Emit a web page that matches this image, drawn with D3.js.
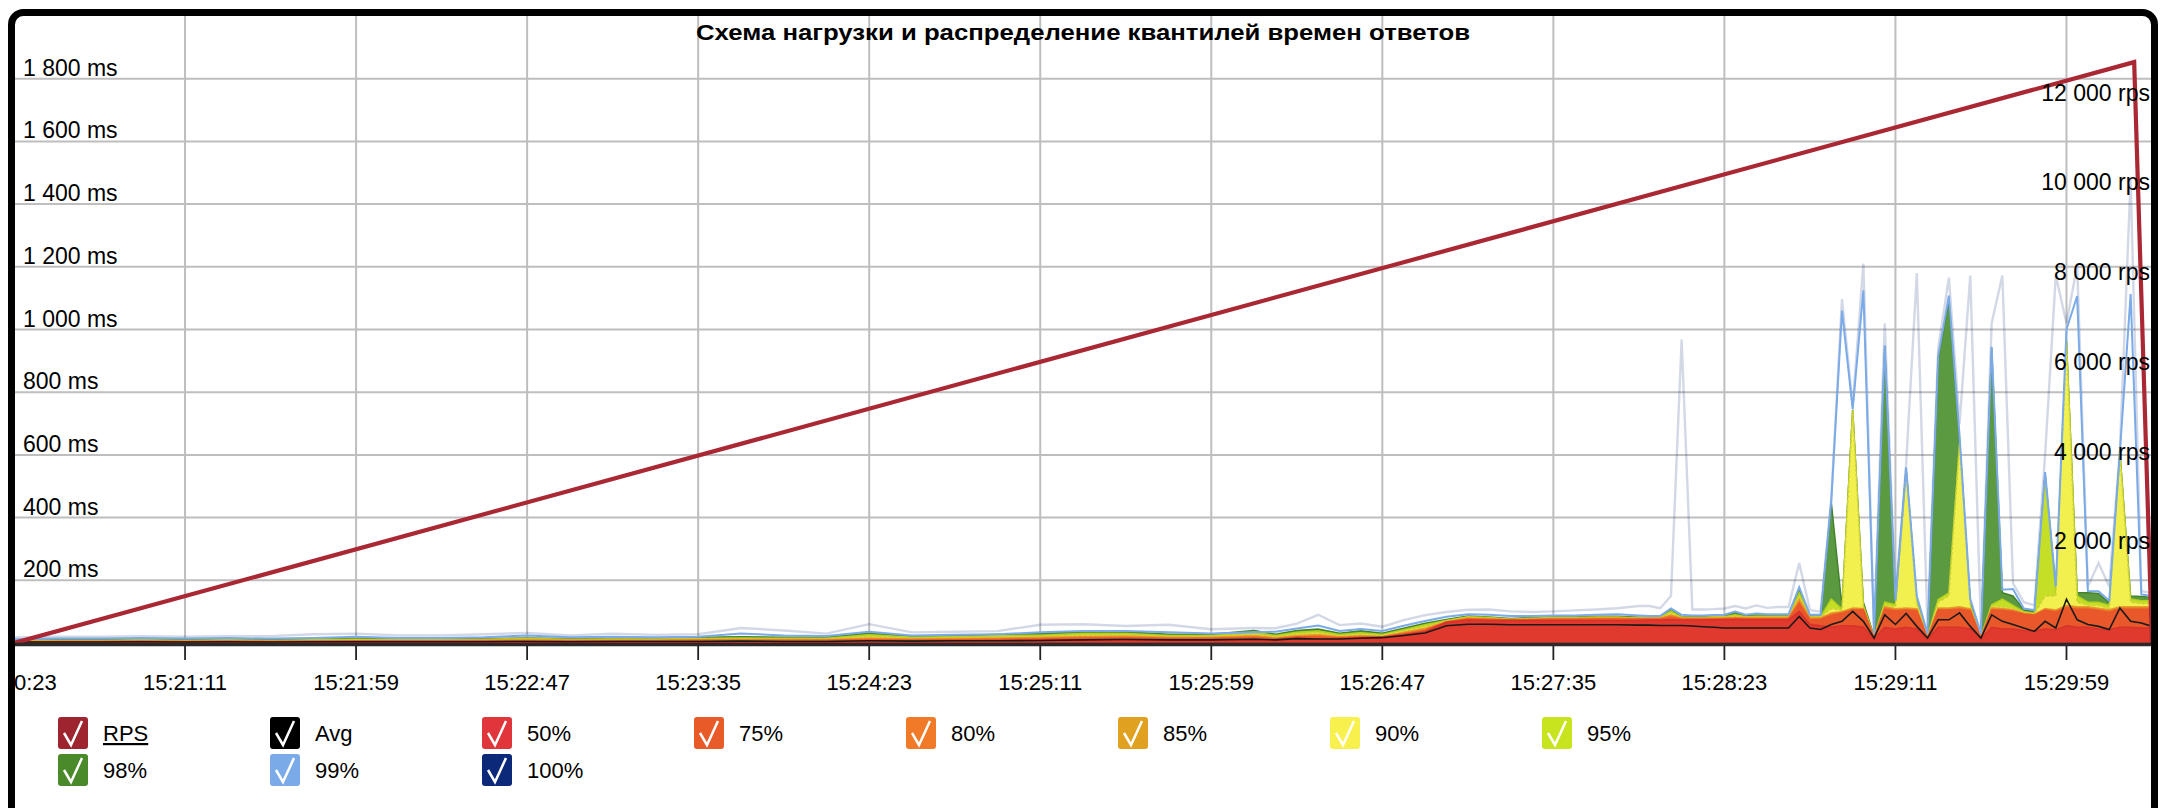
<!DOCTYPE html>
<html>
<head>
<meta charset="utf-8">
<script src="https://cdn.jsdelivr.net/npm/d3@7"></script>
<style>
  html, body { margin: 0; padding: 0; background: #fff; }
  svg text { font-family: "Liberation Sans", Arial, sans-serif; }
</style>
</head>
<body>
<div id="viz"></div>
<script>
const title = 'Схема нагрузки и распределение квантилей времен ответов';

const startTime = '15:20:23';
const endTime = '15:30:23';
const tickLabels = ['15:20:23', '15:21:11', '15:21:59', '15:22:47', '15:23:35', '15:24:23', '15:25:11',
  '15:25:59', '15:26:47', '15:27:35', '15:28:23', '15:29:11', '15:29:59'];
const msTicks = [200, 400, 600, 800, 1000, 1200, 1400, 1600, 1800];
const rpsTicks = [2000, 4000, 6000, 8000, 10000, 12000];

// RPS schedule (seconds from start)
const rpsSeconds = [0, 595, 600];
const rpsValues = [0, 12950, 0];

// quantile samples, seconds from start
const seconds = [
  0, 12, 24, 36, 48, 60, 72, 84, 96, 108, 120, 132, 144, 156, 168, 180, 192, 204, 216, 228, 240, 252, 264, 276, 288, 300, 312, 324, 336, 348,
  354, 360, 366, 372, 378, 384, 390, 396, 402, 408, 414, 420, 426, 432, 438, 444, 450, 456,
  459, 462, 465, 468, 471, 474, 477, 480, 483, 486, 489, 492, 495, 498, 501, 504, 507, 510, 513, 516, 519, 522, 525, 528,
  531, 534, 537, 540, 543, 546, 549, 552, 555, 558, 561, 564, 567, 570, 573, 576, 579, 582, 585, 588, 591, 594, 597, 600
];
const p50 = [
  2, 3, 3, 3, 3, 3, 3, 3, 4, 4, 4, 4, 4, 4, 4, 4, 5, 5, 5, 5, 6, 6, 6, 7, 8, 10, 12, 10, 10, 12,
  10, 16, 13, 14, 16, 18, 26, 36, 66, 73, 72, 72, 72, 72, 72, 72, 72, 72,
  73, 73, 74, 73, 73, 73, 74, 74, 75, 74, 74, 74, 74, 74, 100, 60, 55, 50, 55, 55, 50, 12, 50, 45,
  50, 45, 12, 50, 50, 50, 45, 12, 50, 45, 45, 40, 38, 45, 42, 55, 50, 50, 45, 42, 50, 50, 48, 48
];
const p75 = [
  3, 4, 4, 5, 4, 5, 4, 5, 6, 6, 6, 7, 7, 7, 7, 7, 8, 8, 8, 8, 10, 9, 10, 11, 13, 15, 16, 14, 14, 17,
  13, 19, 19, 16, 19, 19, 29, 40, 67, 76, 75, 73, 74, 75, 75, 76, 76, 76,
  76, 76, 82, 76, 76, 76, 76, 77, 78, 77, 77, 77, 77, 77, 125, 74, 75, 88, 95, 105, 105, 16, 108, 102,
  105, 102, 16, 105, 105, 108, 102, 16, 105, 104, 100, 92, 88, 104, 98, 112, 108, 108, 104, 98, 108, 108, 108, 108
];
const p80 = [
  4, 5, 5, 6, 5, 6, 5, 6, 7, 7, 7, 8, 8, 8, 8, 8, 9, 9, 9, 9, 13, 11, 12, 13, 15, 18, 19, 16, 16, 20,
  15, 21, 23, 18, 21, 20, 31, 43, 67, 78, 76, 73, 75, 77, 77, 78, 78, 77,
  78, 78, 86, 78, 78, 78, 78, 79, 80, 79, 79, 79, 79, 79, 132, 78, 78, 92, 98, 108, 108, 17, 112, 106,
  108, 106, 17, 108, 108, 112, 106, 17, 108, 107, 103, 94, 90, 107, 102, 116, 112, 112, 107, 102, 112, 112, 112, 112
];
const p85 = [
  5, 6, 6, 7, 6, 7, 6, 7, 8, 8, 8, 9, 10, 9, 9, 9, 10, 11, 11, 11, 16, 13, 14, 16, 18, 21, 22, 18, 18, 24,
  17, 24, 27, 20, 24, 21, 34, 47, 68, 80, 77, 74, 76, 78, 78, 80, 80, 78,
  79, 79, 90, 79, 79, 79, 80, 80, 82, 81, 81, 81, 81, 81, 140, 80, 80, 96, 100, 112, 110, 18, 116, 109,
  112, 109, 18, 112, 112, 116, 109, 18, 112, 110, 106, 95, 91, 110, 105, 120, 116, 116, 111, 106, 116, 116, 116, 116
];
const p90 = [
  6, 7, 7, 8, 7, 8, 7, 8, 10, 9, 9, 10, 12, 10, 11, 11, 12, 13, 13, 13, 20, 15, 17, 19, 21, 25, 26, 21, 21, 28,
  20, 28, 32, 23, 28, 24, 38, 52, 70, 82, 79, 75, 77, 79, 79, 81, 81, 79,
  80, 80, 96, 80, 80, 80, 82, 82, 86, 83, 83, 83, 83, 83, 150, 82, 82, 110, 104, 740, 114, 19, 120, 115,
  550, 125, 19, 130, 150, 635, 115, 19, 118, 115, 110, 97, 93, 150, 150, 960, 130, 120, 120, 110, 600, 130, 125, 125
];
const p95 = [
  7, 8, 8, 10, 8, 10, 8, 10, 12, 10, 10, 12, 14, 12, 13, 13, 14, 16, 15, 15, 26, 18, 20, 23, 25, 30, 30, 24, 24, 34,
  24, 34, 38, 27, 33, 27, 42, 58, 72, 84, 81, 76, 79, 81, 81, 83, 83, 80,
  81, 82, 102, 82, 82, 82, 84, 84, 90, 84, 85, 85, 85, 85, 160, 84, 84, 140, 108, 742, 120, 20, 130, 122,
  552, 130, 20, 139, 160, 637, 120, 20, 122, 140, 120, 100, 95, 535, 160, 962, 150, 130, 130, 120, 602, 140, 135, 135
];
const p98 = [
  8, 10, 10, 12, 10, 12, 10, 12, 14, 12, 12, 14, 16, 14, 16, 16, 18, 20, 18, 18, 32, 22, 24, 28, 30, 36, 36, 28, 28, 40,
  28, 40, 45, 31, 39, 31, 47, 63, 75, 86, 83, 78, 81, 83, 83, 85, 85, 82,
  82, 84, 107, 83, 84, 84, 85, 86, 96, 86, 90, 88, 88, 88, 172, 86, 86, 449, 115, 744, 130, 22, 945, 128,
  555, 135, 22, 905, 1095, 645, 130, 22, 940, 160, 150, 106, 100, 540, 170, 965, 160, 160, 158, 128, 605, 150, 148, 145
];
const p99 = [
  12, 14, 14, 16, 14, 16, 14, 16, 20, 16, 16, 18, 24, 18, 20, 18, 20, 30, 24, 22, 36, 24, 26, 28, 34, 38, 38, 34, 30, 34,
  36, 46, 56, 38, 45, 38, 55, 70, 84, 92, 90, 86, 86, 88, 88, 90, 92, 88,
  86, 87, 110, 90, 88, 88, 89, 90, 100, 90, 94, 92, 92, 92, 178, 90, 90, 455, 1060, 746, 1125, 30, 950, 135,
  560, 150, 30, 915, 1108, 660, 140, 30, 945, 170, 172, 110, 105, 545, 180, 1000, 1107, 166, 165, 135, 610, 1113, 155, 150
];
const p100 = [
  18, 20, 20, 22, 20, 22, 22, 28, 30, 24, 24, 28, 32, 24, 30, 26, 28, 48, 40, 30, 60, 34, 36, 38, 58, 60, 54, 58, 44, 48,
  47, 62, 90, 57, 62, 52, 73, 89, 99, 106, 107, 101, 99, 101, 104, 107, 111, 118,
  118, 111, 150, 968, 107, 107, 108, 110, 118, 110, 120, 112, 115, 115, 255, 105, 100, 460, 1097, 756, 1210, 40, 1020, 140,
  570, 1180, 50, 940, 1165, 700, 1172, 40, 1020, 1172, 190, 130, 120, 600, 1172, 1020, 1204, 180, 255, 180, 620, 1480, 165, 160
];
const avg = [
  3, 3, 3, 4, 3, 4, 3, 4, 4, 4, 4, 4, 5, 4, 5, 5, 5, 6, 5, 5, 7, 6, 7, 7, 8, 10, 11, 10, 10, 12,
  10, 14, 13, 13, 15, 17, 24, 32, 55, 60, 60, 58, 58, 58, 58, 58, 58, 57,
  57, 56, 56, 56, 54, 52, 50, 48, 48, 48, 48, 48, 48, 48, 85, 48, 43, 59, 69, 101, 69, 16, 90, 59,
  94, 53, 16, 74, 74, 96, 53, 16, 90, 69, 59, 48, 37, 69, 48, 140, 74, 59, 53, 43, 112, 69, 64, 53
];

const legendLabels = ['RPS', 'Avg', '50%', '75%', '80%', '85%', '90%', '95%', '98%', '99%', '100%'];
const legendColors = ['#9e2530', '#000000', '#e0353a', '#e85a28', '#f07a28', '#e0a020', '#f8f04c',
  '#c8e41e', '#4a8a2a', '#7aaae8', '#0c2878'];

const config = {
  width: 2170,
  height: 808,
  plot: { left: 14, right: 2152, top: 16, bottom: 643 },
  legend: { left: 58, step: 212, rows: [733, 770], perRow: 8 }
};

const parseTime = d3.timeParse('%H:%M:%S');
const t0 = parseTime(startTime);
const toDate = s => d3.timeSecond.offset(t0, s);
const spaced = d => d3.format(',')(d).replace(/,/g, ' ');

const x = d3.scaleTime()
  .domain([t0, parseTime(endTime)])
  .range([config.plot.left, config.plot.right]);
const yMs = d3.scaleLinear().domain([0, 2000]).range([config.plot.bottom, config.plot.top]);
const yRps = d3.scaleLinear().domain([0, 14000]).range([config.plot.bottom, config.plot.top - 1]);

const svg = d3.select('#viz').append('svg')
  .attr('width', config.width)
  .attr('height', config.height)
  .style('display', 'block');

const defs = svg.append('defs');
defs.append('clipPath').attr('id', 'plot-clip')
  .append('rect')
  .attr('x', config.plot.left).attr('y', config.plot.top - 2)
  .attr('width', config.plot.right - config.plot.left + 1)
  .attr('height', config.plot.bottom - config.plot.top + 3);
defs.append('clipPath').attr('id', 'label-clip')
  .append('rect')
  .attr('x', 15).attr('y', 600).attr('width', 2140).attr('height', 120);

// grid
const grid = svg.append('g');
grid.selectAll('.hgrid').data(msTicks).join('line')
  .attr('x1', config.plot.left).attr('x2', config.plot.right)
  .attr('y1', d => yMs(d)).attr('y2', d => yMs(d))
  .attr('stroke', '#bebebe').attr('stroke-width', 2);
grid.selectAll('.vgrid').data(tickLabels.slice(1)).join('line')
  .attr('x1', d => x(parseTime(d))).attr('x2', d => x(parseTime(d)))
  .attr('y1', config.plot.top).attr('y2', config.plot.bottom)
  .attr('stroke', '#bebebe').attr('stroke-width', 2);

svg.append('text')
  .attr('x', (config.plot.left + config.plot.right) / 2)
  .attr('y', 40)
  .attr('text-anchor', 'middle')
  .attr('font-size', 22)
  .attr('font-weight', 'bold')
  .attr('fill', '#000')
  .attr('textLength', 774)
  .attr('lengthAdjust', 'spacingAndGlyphs')
  .text(title);

const rows = seconds.map((s, i) => ({
  t: toDate(s), p50: p50[i], p75: p75[i], p80: p80[i], p85: p85[i], p90: p90[i],
  p95: p95[i], p98: p98[i], p99: p99[i], p100: p100[i], avg: avg[i]
}));

const plot = svg.append('g').attr('clip-path', 'url(#plot-clip)');

const areaFor = key => d3.area()
  .x(d => x(d.t))
  .y0(yMs(0))
  .y1(d => yMs(d[key]));
const lineFor = key => d3.line()
  .x(d => x(d.t))
  .y(d => yMs(d[key]));

const areas = [
  { key: 'p98', fill: '#5b9a41', stroke: '#43832c' },
  { key: 'p95', fill: '#c4df26', stroke: '#b4d01c' },
  { key: 'p90', fill: '#f2f04e', stroke: '#cfd03c', dash: '3,2' },
  { key: 'p85', fill: '#e1a229', stroke: '#e1a229' },
  { key: 'p80', fill: '#f07a2a', stroke: '#f07a2a' },
  { key: 'p75', fill: '#e8582a', stroke: '#e8582a' },
  { key: 'p50', fill: '#e0392e', stroke: '#d8322a' }
];

plot.selectAll('.q-area').data(areas).join('path')
  .attr('d', a => areaFor(a.key)(rows))
  .attr('fill', a => a.fill)
  .attr('stroke', a => a.stroke)
  .attr('stroke-width', 1.5)
  .attr('stroke-dasharray', a => a.dash || null);

plot.append('path')
  .attr('d', lineFor('p100')(rows))
  .attr('fill', 'none')
  .attr('stroke', '#0c2878')
  .attr('stroke-opacity', 0.18)
  .attr('stroke-width', 2.4);
plot.append('path')
  .attr('d', lineFor('p99')(rows))
  .attr('fill', 'none')
  .attr('stroke', '#7aaae8')
  .attr('stroke-width', 2);
plot.append('path')
  .attr('d', lineFor('avg')(rows))
  .attr('fill', 'none')
  .attr('stroke', '#1a1a1a')
  .attr('stroke-width', 1.6);

const rpsLine = d3.line()
  .x(d => x(toDate(d[0])))
  .y(d => yRps(d[1]));
plot.append('path')
  .attr('d', rpsLine(d3.zip(rpsSeconds, rpsValues)))
  .attr('fill', 'none')
  .attr('stroke', '#aa2834')
  .attr('stroke-width', 4.2)
  .attr('stroke-linejoin', 'miter');

// axes
svg.append('line')
  .attr('x1', config.plot.left).attr('x2', config.plot.right)
  .attr('y1', config.plot.bottom + 1.5).attr('y2', config.plot.bottom + 1.5)
  .attr('stroke', '#2a2a2a').attr('stroke-width', 3.5);

const xAxis = svg.append('g').attr('clip-path', 'url(#label-clip)');
xAxis.selectAll('.tick').data(tickLabels).join('line')
  .attr('x1', d => x(parseTime(d))).attr('x2', d => x(parseTime(d)))
  .attr('y1', config.plot.bottom + 3).attr('y2', config.plot.bottom + 17)
  .attr('stroke', '#222').attr('stroke-width', 1.8);
xAxis.selectAll('.tick-label').data(tickLabels).join('text')
  .attr('x', d => x(parseTime(d)))
  .attr('y', 690)
  .attr('text-anchor', 'middle')
  .attr('font-size', 22)
  .attr('fill', '#000')
  .text(d => d);

svg.append('g').selectAll('text').data(msTicks).join('text')
  .attr('x', 23)
  .attr('y', d => yMs(d) - 3)
  .attr('font-size', 23)
  .attr('fill', '#000')
  .text(d => spaced(d) + ' ms');

svg.append('g').selectAll('text').data(rpsTicks).join('text')
  .attr('x', 2150)
  .attr('y', d => yRps(d) - 4)
  .attr('text-anchor', 'end')
  .attr('font-size', 23)
  .attr('fill', '#000')
  .text(d => spaced(d) + ' rps');

// legend
const legend = svg.append('g');
const items = legend.selectAll('g').data(legendLabels).join('g')
  .attr('transform', (d, i) => {
    const col = i % config.legend.perRow;
    const row = Math.floor(i / config.legend.perRow);
    return `translate(${config.legend.left + col * config.legend.step}, ${config.legend.rows[row]})`;
  });
items.append('rect')
  .attr('x', 0).attr('y', -16)
  .attr('width', 30).attr('height', 32)
  .attr('rx', 3)
  .attr('fill', (d, i) => legendColors[i]);
items.append('path')
  .attr('d', 'M6,0 L13,12 L24,-12')
  .attr('fill', 'none')
  .attr('stroke', '#fff')
  .attr('stroke-width', 2.5);
items.append('text')
  .attr('x', 45)
  .attr('y', 8)
  .attr('font-size', 22)
  .attr('fill', '#000')
  .style('text-decoration', d => d === 'RPS' ? 'underline' : null)
  .text(d => d);

// frame
svg.append('rect')
  .attr('x', 11.5).attr('y', 12.5)
  .attr('width', 2143).attr('height', 900)
  .attr('rx', 12)
  .attr('fill', 'none')
  .attr('stroke', '#000')
  .attr('stroke-width', 7);
</script>
</body>
</html>
